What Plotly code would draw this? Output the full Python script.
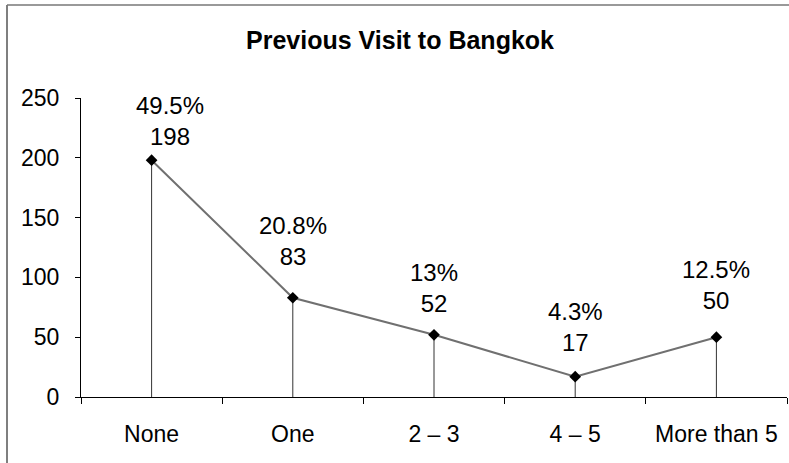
import plotly.graph_objects as go

categories = ["None", "One", "2 – 3", "4 – 5", "More than 5"]
counts = [198, 83, 52, 17, 50]
percents = ["49.5%", "20.8%", "13%", "4.3%", "12.5%"]
y_ticks = [0, 50, 100, 150, 200, 250]

# label style offsets (pixels)
label_yshift = [8, 26, 16, 19, 21]
label_xshift = [18, 0, 0, 0, 0]

FONT = "Liberation Sans, Arial, sans-serif"

fig = go.Figure()
fig.add_trace(go.Scatter(
    x=categories, y=counts, mode="lines+markers",
    line=dict(color="#707070", width=2),
    marker=dict(symbol="diamond", size=9, color="black"),
    error_y=dict(type="data", symmetric=False, array=[0]*len(counts),
                 arrayminus=counts, width=0, thickness=1, color="#333333"),
    showlegend=False, hoverinfo="skip",
))

for i, (c, v, p) in enumerate(zip(categories, counts, percents)):
    fig.add_annotation(x=c, y=v, text=f"{p}<br>{v}", showarrow=False,
                       yanchor="bottom", xanchor="center",
                       yshift=label_yshift[i], xshift=label_xshift[i],
                       font=dict(family=FONT, size=24, color="black"))

fig.update_layout(
    width=789, height=463,
    margin=dict(l=81, r=2, t=98, b=66),
    paper_bgcolor="white", plot_bgcolor="white",
    title=dict(text="<b>Previous Visit to Bangkok</b>", x=0.507, xanchor="center",
               y=1 - 40/463, yanchor="middle",
               font=dict(family=FONT, size=25, color="black")),
    font=dict(family=FONT, size=23, color="black"),
)
fig.update_xaxes(type="category", range=[-0.5, 4.5], showline=True, linecolor="black",
                 linewidth=1, ticks="outside", tickson="boundaries", ticklen=6,
                 tickcolor="black", showgrid=False, zeroline=False,
                 ticklabelstandoff=16, tickfont=dict(family=FONT, size=23))
fig.update_yaxes(range=[0, 250], tickvals=y_ticks, showline=True, linecolor="black",
                 linewidth=1, ticks="outside", ticklen=5, tickcolor="black",
                 showgrid=False, zeroline=False, ticklabelstandoff=11,
                 tickfont=dict(family=FONT, size=23))

# scanned-page frame (left and top edges)
fig.add_shape(type="line", xref="paper", yref="paper",
              x0=(7-81)/706, x1=(7-81)/706, y0=(397-463)/299, y1=(397-5)/299,
              line=dict(color="#555555", width=1.5))
fig.add_shape(type="line", xref="paper", yref="paper",
              x0=(7-81)/706, x1=(789-81)/706, y0=(397-5)/299, y1=(397-5)/299,
              line=dict(color="#777777", width=1.5))

fig.write_html("out.html")
